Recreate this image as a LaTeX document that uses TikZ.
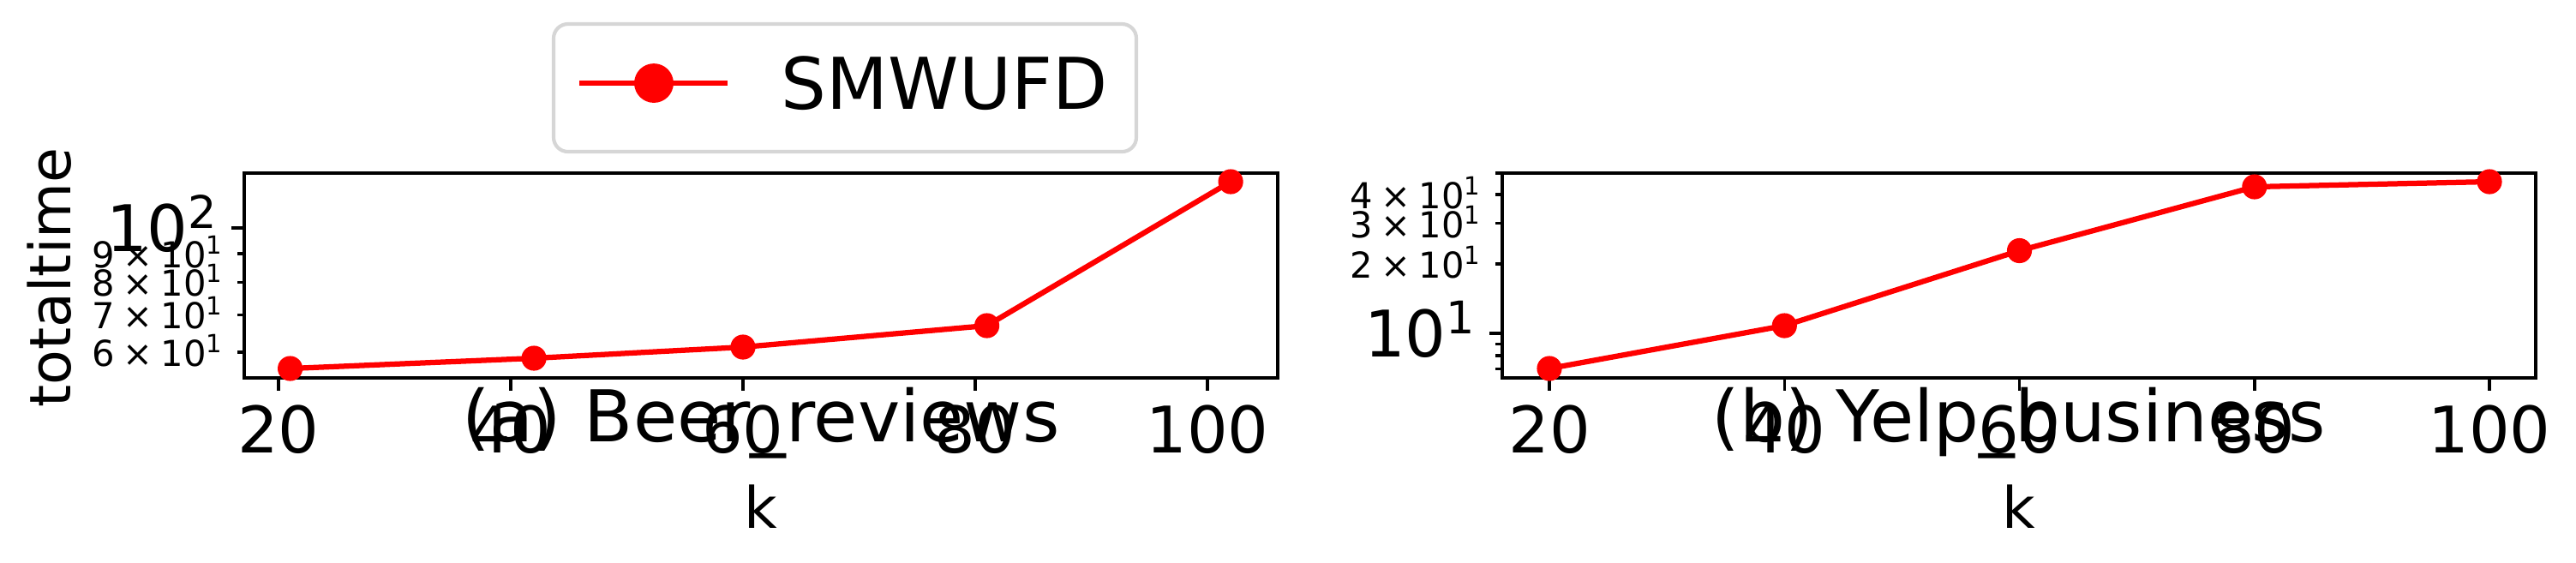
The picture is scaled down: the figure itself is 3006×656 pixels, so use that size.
\documentclass[tikz,border=0pt]{standalone}
\usepackage{fontspec}
\setmainfont{DejaVu Sans}
\newcommand{\tms}{\hspace{0.22em}×\hspace{0.22em}}
\begin{document}
\begin{tikzpicture}[x=0.24pt,y=0.24pt,yscale=-1,xscale=1,
  spine/.style={line width=0.8pt},
  curve/.style={red, line width=1.5pt, line join=round},
  dot/.style={circle, fill=red, inner sep=0pt, minimum size=7pt},
  ticklab/.style={font=\fontsize{18}{21.6}\selectfont, inner sep=0pt},
  minlab/.style={font=\fontsize{10}{12}\selectfont, inner sep=0pt, anchor=base east},
  axlab/.style={font=\fontsize{16}{19.2}\selectfont, inner sep=0pt, anchor=base},
  caption/.style={font=\fontsize{20}{24}\selectfont, inner sep=0pt, anchor=base}]
%uncomment if require: \path (0,656); %set diagram left start at 0, and has height of 656
\useasboundingbox (0,0) rectangle (3006,656);

%Shape: Rectangle [id:plota] 
\draw[spine]  (285,202) rectangle (1491,441) ;
%Straight Lines [id:xticksa] 
\draw[spine]  (325,441) -- (325,455.6) ;
\draw[spine]  (596,441) -- (596,455.6) ;
\draw[spine]  (867,441) -- (867,455.6) ;
\draw[spine]  (1138,441) -- (1138,455.6) ;
\draw[spine]  (1409,441) -- (1409,455.6) ;
%Straight Lines [id:yticksa] 
\draw[spine]  (285,266) -- (270.4,266) ;
\draw[spine]  (285,295.9) -- (276.7,295.9) ;
\draw[spine]  (285,329.3) -- (276.7,329.3) ;
\draw[spine]  (285,367.2) -- (276.7,367.2) ;
\draw[spine]  (285,411) -- (276.7,411) ;

% Text Node
\node[ticklab, anchor=base] (xa1) at (325,528) {20};
% Text Node
\node[ticklab, anchor=base] (xa2) at (596,528) {40};
% Text Node
\node[ticklab, anchor=base] (xa3) at (867,528) {60};
% Text Node
\node[ticklab, anchor=base] (xa4) at (1138,528) {80};
% Text Node
\node[ticklab, anchor=base] (xa5) at (1409,528) {100};
% Text Node
\node[ticklab, anchor=base east] (ya0) at (256,293) {10\textsuperscript{2}};
% Text Node
\node[minlab] (ya9) at (262,312) {9\tms10\textsuperscript{1}};
% Text Node
\node[minlab] (ya8) at (262,345) {8\tms10\textsuperscript{1}};
% Text Node
\node[minlab] (ya7) at (262,383) {7\tms10\textsuperscript{1}};
% Text Node
\node[minlab] (ya6) at (262,427) {6\tms10\textsuperscript{1}};
% Text Node
\node[axlab, rotate=90] (ylab) at (83,324) {totaltime};
% Text Node
\node[axlab] (ka) at (888,616) {k};
% Text Node
\node[caption] (capa) at (888,515) {(a) Beer\_reviews};

%Shape: Circle [id:dotsa] 
\node[dot] (a1) at (338.6,430) {};
\node[dot] (a2) at (623.1,418) {};
\node[dot] (a3) at (867,405) {};
\node[dot] (a4) at (1151.6,380) {};
\node[dot] (a5) at (1436.1,212) {};
%Straight Lines [id:curvea] 
\draw[curve]  (a1.center) -- (a2.center) -- (a3.center) -- (a4.center) -- (a5.center) ;

%Shape: Rectangle [id:plotb] 
\draw[spine]  (1753,202) rectangle (2959,441) ;
%Straight Lines [id:xticksb] 
\draw[spine]  (1808,441) -- (1808,455.6) ;
\draw[spine]  (2082.3,441) -- (2082.3,455.6) ;
\draw[spine]  (2356.5,441) -- (2356.5,455.6) ;
\draw[spine]  (2630.8,441) -- (2630.8,455.6) ;
\draw[spine]  (2905,441) -- (2905,455.6) ;
%Straight Lines [id:yticksb] 
\draw[spine]  (1753,389) -- (1738.4,389) ;
\draw[spine]  (1753,430.7) -- (1744.7,430.7) ;
\draw[spine]  (1753,415.1) -- (1744.7,415.1) ;
\draw[spine]  (1753,401.3) -- (1744.7,401.3) ;
\draw[spine]  (1753,308) -- (1744.7,308) ;
\draw[spine]  (1753,260.7) -- (1744.7,260.7) ;
\draw[spine]  (1753,227) -- (1744.7,227) ;
\draw[spine]  (1753,202) -- (1744.7,202) ;

% Text Node
\node[ticklab, anchor=base] (xb1) at (1808,528) {20};
% Text Node
\node[ticklab, anchor=base] (xb2) at (2082.3,528) {40};
% Text Node
\node[ticklab, anchor=base] (xb3) at (2356.5,528) {60};
% Text Node
\node[ticklab, anchor=base] (xb4) at (2630.8,528) {80};
% Text Node
\node[ticklab, anchor=base] (xb5) at (2905,528) {100};
% Text Node
\node[ticklab, anchor=base east] (yb0) at (1724,416) {10\textsuperscript{1}};
% Text Node
\node[minlab] (yb2) at (1730,324) {2\tms10\textsuperscript{1}};
% Text Node
\node[minlab] (yb3) at (1730,277) {3\tms10\textsuperscript{1}};
% Text Node
\node[minlab] (yb4) at (1730,243) {4\tms10\textsuperscript{1}};
% Text Node
\node[axlab] (kb) at (2356,616) {k};
% Text Node
\node[caption] (capb) at (2356,515) {(b) Yelp\_business};

%Shape: Circle [id:dotsb] 
\node[dot] (b1) at (1808,430) {};
\node[dot] (b2) at (2082.3,380) {};
\node[dot] (b3) at (2356.5,292.5) {};
\node[dot] (b4) at (2630.8,218) {};
\node[dot] (b5) at (2905,212) {};
%Straight Lines [id:curveb] 
\draw[curve]  (b1.center) -- (b2.center) -- (b3.center) -- (b4.center) -- (b5.center) ;

%Shape: Rounded Rect [id:legend] 
\draw[draw=black!16, fill=white, line width=1pt, rounded corners=4pt]  (646,28) rectangle (1326,177) ;
\coordinate (l1) at (676,97) ;
\coordinate (l2) at (849,97) ;
%Straight Lines [id:legline] 
\draw[curve]  (l1) -- (l2) ;
\node[dot, minimum size=11pt] (lm) at (763,97) {};
% Text Node
\node[caption, anchor=base west] (lt) at (911,127) {SMWUFD};

\end{tikzpicture}
\end{document}
